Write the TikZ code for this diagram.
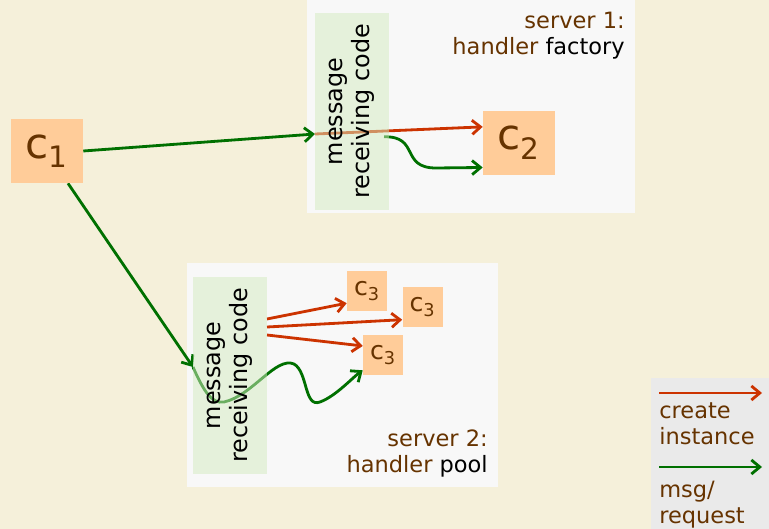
\documentclass[tikz,border=0pt]{standalone}
\usepackage{fontspec}
\setmainfont{DejaVu Sans}
\usetikzlibrary{positioning, arrows.meta, backgrounds}

\definecolor{cPaper}{RGB}{245,240,218}
\definecolor{cPanel}{RGB}{248,248,248}
\definecolor{cKey}{RGB}{234,234,234}
\definecolor{cPeach}{RGB}{255,204,153}
\definecolor{cBrown}{RGB}{102,51,0}
\definecolor{cRecv}{RGB}{212,236,192}
\definecolor{cRed}{RGB}{204,51,0}
\definecolor{cGreen}{RGB}{0,112,0}

% connectors go below the (see-through) receiver boxes
\pgfdeclarelayer{wires}
\pgfsetlayers{background,wires,main}

\begin{document}
\begin{tikzpicture}[
    >={Straight Barb[length=6pt,width=10pt]},
    font=\fontsize{16}{18.5}\selectfont,
    inst/.style={rectangle, fill=cPeach, text=cBrown, inner sep=0pt, minimum width=1.8cm, minimum height=1.6cm, font=\fontsize{30}{32}\selectfont},
    worker/.style={inst, minimum width=1cm, minimum height=1cm, font=\fontsize{18}{20}\selectfont},
    server/.style={rectangle, fill=cPanel, inner sep=0pt, anchor=north west},
    recv/.style={rectangle, fill=cRecv, fill opacity=0.5, text opacity=1, rotate=90, align=center, inner sep=0pt, minimum width=4.925cm, minimum height=1.85cm, font=\fontsize{17}{19.5}\selectfont},
    note/.style={align=right, text=cBrown, inner sep=0pt},
    create/.style={->, line width=2pt, cRed},
    msg/.style={->, line width=2pt, cGreen},
]

\begin{scope}[on background layer]
    \fill[cPaper] (0,0) rectangle (19.225,-13.225);
    % the two servers
    \node[server, minimum width=8.2cm, minimum height=5.325cm] (srv1) at (7.675,0) {};
    \node[server, minimum width=7.775cm, minimum height=5.6cm] (srv2) at (4.675,-6.575) {};
\end{scope}
\useasboundingbox (0,0) rectangle (19.225,-13.225);

\node[note, anchor=north east] (srv1lbl) at (15.625,-0.3) {server 1:\\handler \textcolor{black}{factory}};
\node[note, anchor=north east] (srv2lbl) at (12.2,-10.75) {server 2:\\handler \textcolor{black}{pool}};

% client and handler instances
\node[inst] (c1) at (1.175,-3.775) {c\textsubscript{1}};
\node[inst] (c2) at (12.975,-3.575) {c\textsubscript{2}};
\node[worker] (c3a) at (9.175,-7.275) {c\textsubscript{3}};
\node[worker] (c3b) at (10.5625,-7.675) {c\textsubscript{3}};
\node[worker] (c3c) at (9.575,-8.875) {c\textsubscript{3}};

% receiving code
\node[recv] (rx1) at (8.8,-2.7875) {message\\receiving code};
\node[recv] (rx2) at (5.75,-9.3875) {message\\receiving code};

\coordinate (in1) at (7.875,-3.35);
\coordinate (out1) at (9.6,-3.42);
\coordinate (in2) at (4.825,-9.175);
\coordinate (o1) at (6.675,-7.975);
\coordinate (o2) at (6.675,-8.175);
\coordinate (o3) at (6.675,-8.375);

\begin{pgfonlayer}{wires}
    \draw[msg] (c1.east) -- (in1);
    \draw[create] (in1) -- (c2.156);
    \draw[msg] (out1) .. controls (10.5,-3.4) and (10.0,-4.2) .. (10.9,-4.2) -- (c2.214);

    \draw[msg] (c1.303) -- (in2);
    \draw[msg] (in2) .. controls (5.1,-9.8) and (5.3,-10.1) .. (5.6,-10.05)
        .. controls (6.3,-9.9) and (6.9,-8.9) .. (7.35,-9.1)
        .. controls (7.7,-9.3) and (7.6,-10.2) .. (8.0,-10.05)
        .. controls (8.4,-9.9) and (8.8,-9.45) .. (c3c.217);
    \draw[create] (o1) -- (c3a.211);
    \draw[create] (o2) -- (c3b.212);
    \draw[create] (o3) -- (c3c.156);
\end{pgfonlayer}

% key
\node[rectangle, fill=cKey, inner sep=0pt, anchor=north west, minimum width=2.95cm, minimum height=3.775cm] (key) at (16.275,-9.45) {};
\coordinate (kc1) at (16.475,-9.825);
\coordinate (kc2) at (19.05,-9.825);
\coordinate (km1) at (16.475,-11.675);
\coordinate (km2) at (19.05,-11.675);
\draw[create] (kc1) -- (kc2);
\draw[msg] (km1) -- (km2);
\node[note, align=left, anchor=north west] (keyc) at (16.475,-10.05) {create\\instance};
\node[note, align=left, anchor=north west] (keym) at (16.475,-12.02) {msg/\\request};

\end{tikzpicture}
\end{document}
